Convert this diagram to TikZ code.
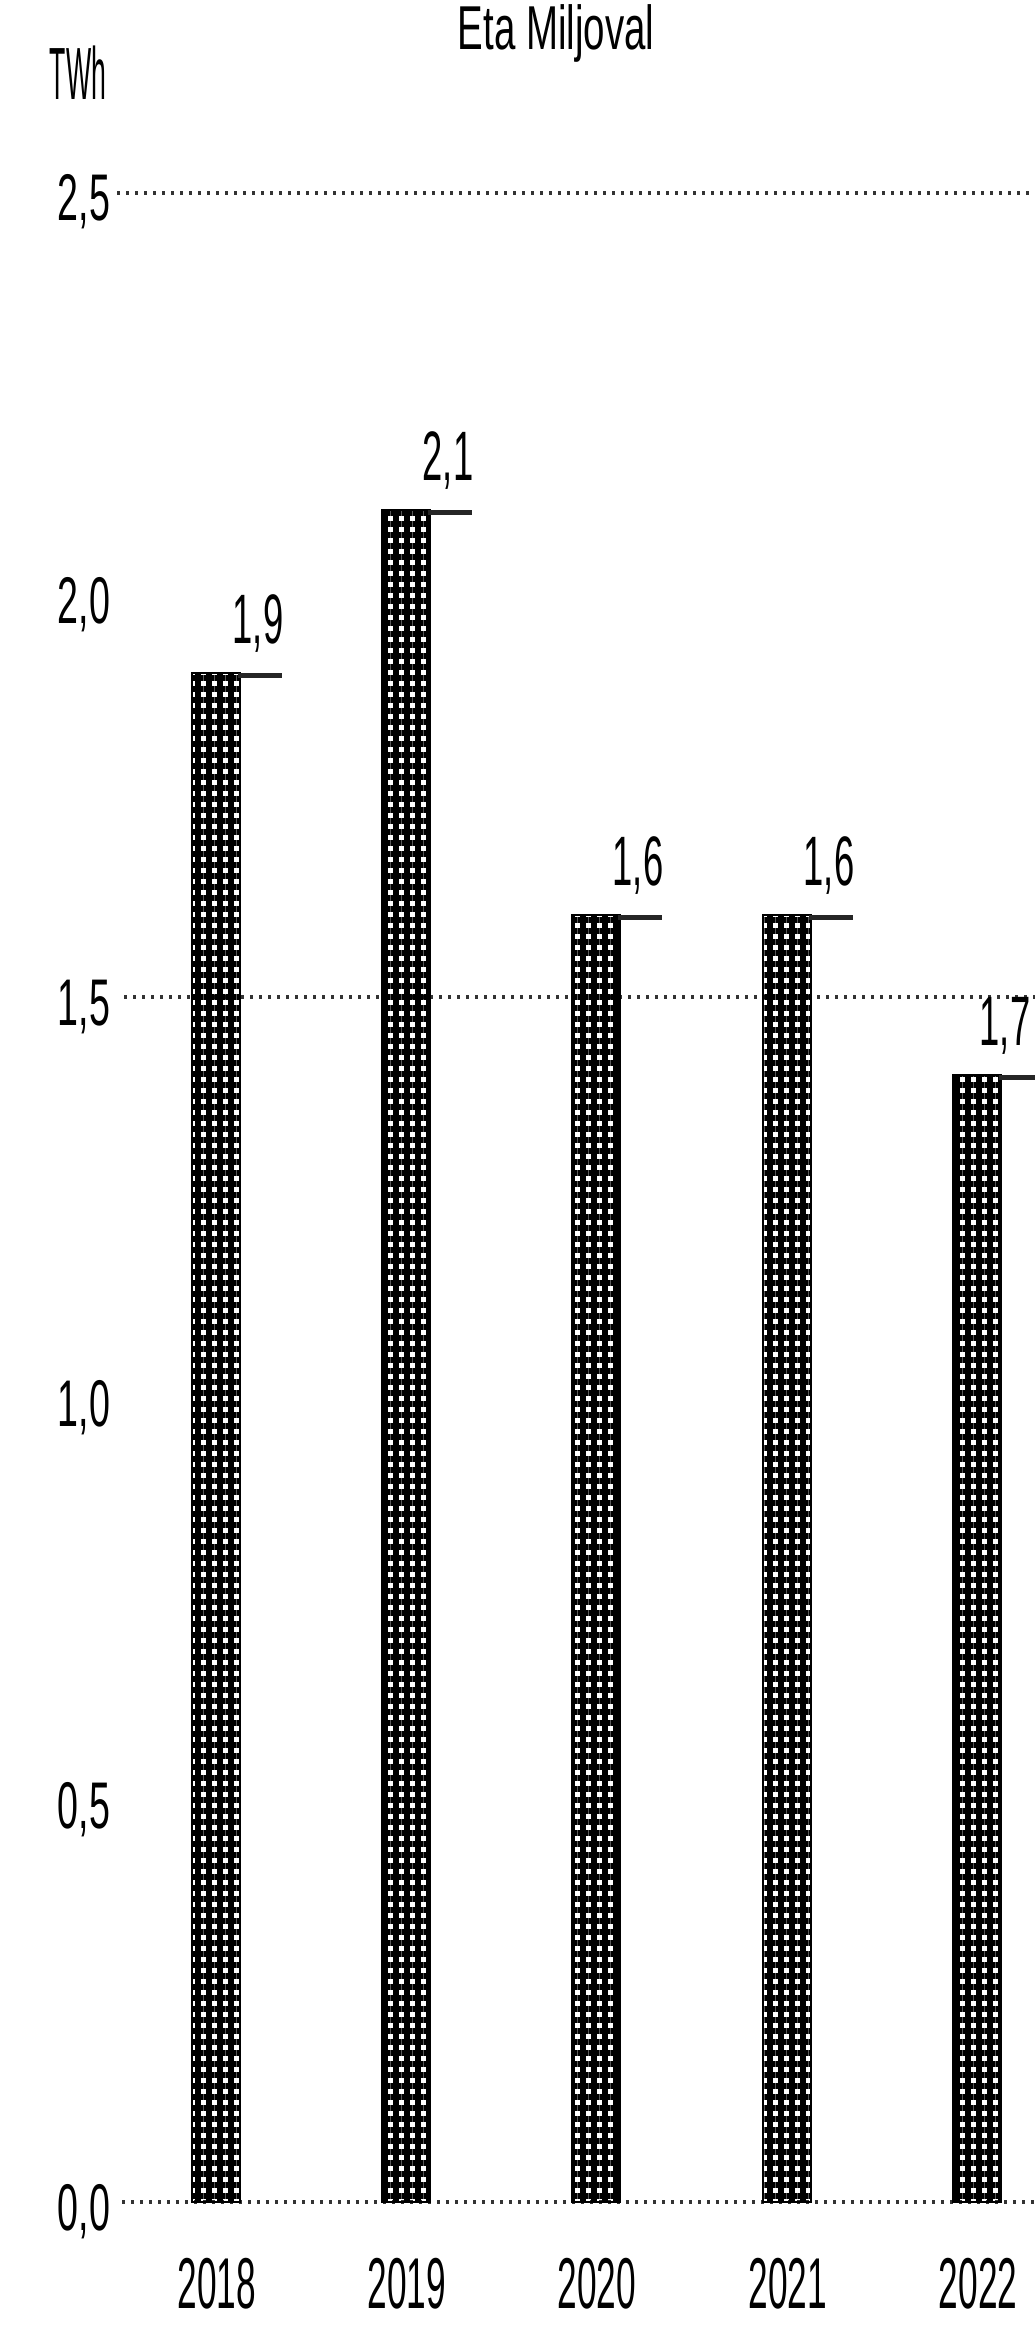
\documentclass[tikz,border=0pt]{standalone}
\usepackage{fontspec}
\setmainfont{Liberation Sans}
\usepackage{graphicx}
\usetikzlibrary{patterns.meta}
\newcommand\sqz[2]{\scalebox{#1}[1]{#2}}
\tikzset{
  gridln/.style={black!80, line width=4pt, dash pattern=on 3pt off 6pt},
  barfill/.style={draw=black, line width=2pt,
    pattern={Lines[distance=11pt,line width=6.5pt,angle=0]}, pattern color=black,
    postaction={pattern={Lines[distance=11pt,line width=6.5pt,angle=90]}, pattern color=black}},
  capln/.style={black!85, line width=5pt},
  ylab/.style={anchor=base, inner sep=0pt, font=\fontsize{66}{70}\selectfont},
  vlab/.style={anchor=base, inner sep=0pt, font=\fontsize{70}{74}\selectfont},
  yrlab/.style={anchor=base, inner sep=0pt, font=\fontsize{72}{76}\selectfont},
}
\begin{document}
\begin{tikzpicture}[x=1pt,y=-1pt]
\useasboundingbox (0,0) rectangle (1034,2328);
% title and unit
\node[anchor=base, inner sep=0pt, font=\fontsize{62}{66}\selectfont] (title) at (556,50) {\sqz{0.62}{Eta Miljoval}};
\node[anchor=base, inner sep=0pt, font=\fontsize{74}{78}\selectfont] (unit) at (78,100) {\sqz{0.36}{TWh}};
% grid lines
\draw[gridln] (117,193) -- (1040,193);
\draw[gridln] (124,997) -- (1040,997);
\draw[gridln] (122,2202) -- (1040,2202);
% y labels
\node[ylab] (y25) at (84,221) {\sqz{0.57}{2,5}};
\node[ylab] (y20) at (84,623) {\sqz{0.57}{2,0}};
\node[ylab] (y15) at (84,1025) {\sqz{0.57}{1,5}};
\node[ylab] (y10) at (84,1426) {\sqz{0.57}{1,0}};
\node[ylab] (y05) at (84,1828) {\sqz{0.57}{0,5}};
\node[ylab] (y00) at (84,2230) {\sqz{0.57}{0,0}};
% bars
\foreach \cx/\top/\val/\yr/\lx in {216/673/{1,9}/2018/42, 406/510/{2,1}/2019/42, 596/915/{1,6}/2020/42, 787/915/{1,6}/2021/42, 977/1075/{1,7}/2022/28}{
  \path[barfill] (\cx-24,\top) rectangle (\cx+24,2202);
  \draw[capln] (\cx+22,\top+2) -- (\cx+66,\top+2);
  \node[vlab] (v\yr) at (\cx+\lx,\top-30) {\sqz{0.52}{\val}};
  \node[yrlab] (x\yr) at (\cx+1,2308) {\sqz{0.49}{\yr}};
}
\end{tikzpicture}
\end{document}
